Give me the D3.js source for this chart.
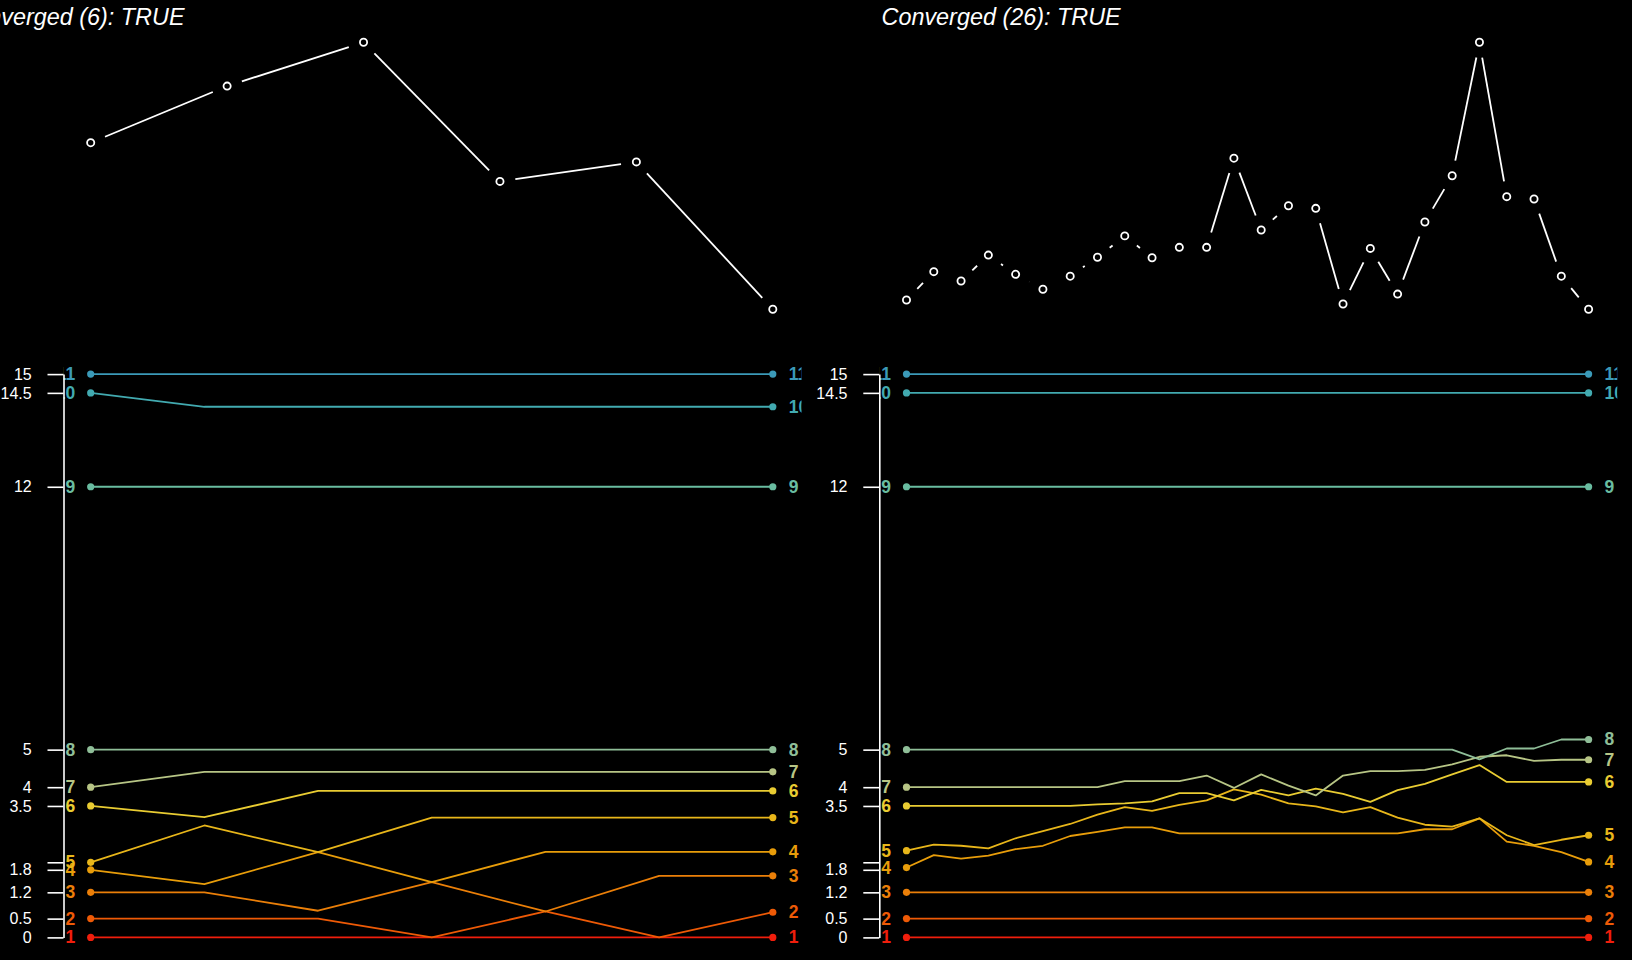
<!DOCTYPE html>
<html><head><meta charset="utf-8">
<script src="https://cdn.jsdelivr.net/npm/d3@7"></script>
<style>
html,body{margin:0;padding:0;background:#000;overflow:hidden;}
svg{display:block;}
text{font-family:"Liberation Sans",Arial,Helvetica,sans-serif;}
</style></head><body>
<svg id="chart" width="1632" height="960"></svg>
<script>
// ---------------- data ----------------
const itemLabels = ["1","2","3","4","5","6","7","8","9","10","11"];
const itemColors = ["#F01E0C","#EE5A06","#EB7F08","#E89D0A","#E8B61A","#E9CC32","#B7C585","#8FBE98","#69BCA0","#42AAB0","#3B9AB8"];
const axisTicks = [0, 0.5, 1.2, 1.8, 2, 3.5, 4, 5, 12, 14.5, 15];
const axisTickLabels = ["0","0.5","1.2","1.8","","3.5","4","5","12","14.5","15"];

// run A (left panel)
const runA_title = "Converged (6): TRUE";
const runA_score = [0.624, 0.836, 1.000, 0.479, 0.552, 0.000];
const runA_item1  = [0, 0, 0, 0, 0, 0, 0];
const runA_item2  = [0.5, 0.5, 0.5, 0, 0.69, 0, 0.67];
const runA_item3  = [1.2, 1.2, 0.71, 1.47, 0.69, 1.64, 1.64];
const runA_item4  = [1.8, 1.42, 2.27, 1.47, 2.28, 2.28, 2.28];
const runA_item5  = [2.0, 2.98, 2.27, 3.19, 3.19, 3.19, 3.19];
const runA_item6  = [3.5, 3.2, 3.9, 3.9, 3.9, 3.9, 3.9];
const runA_item7  = [4, 4.41, 4.41, 4.41, 4.41, 4.41, 4.41];
const runA_item8  = [5, 5, 5, 5, 5, 5, 5];
const runA_item9  = [12, 12, 12, 12, 12, 12, 12];
const runA_item10 = [14.5, 14.13, 14.13, 14.13, 14.13, 14.13, 14.13];
const runA_item11 = [15, 15, 15, 15, 15, 15, 15];

// run B (right panel)
const runB_title = "Converged (26): TRUE";
const runB_score = [0.035, 0.141, 0.106, 0.203, 0.131, 0.075, 0.124, 0.195, 0.275, 0.193,
                    0.232, 0.232, 0.566, 0.297, 0.388, 0.378, 0.020, 0.228, 0.057, 0.327,
                    0.500, 1.000, 0.422, 0.413, 0.124, 0.000];
const runB_item1  = [0,0,0,0,0,0,0,0,0,0,0,0,0,0,0,0,0,0,0,0,0,0,0,0,0,0];
const runB_item2  = [0.5,0.5,0.5,0.5,0.5,0.5,0.5,0.5,0.5,0.5,0.5,0.5,0.5,0.5,0.5,0.5,0.5,0.5,0.5,0.5,0.5,0.5,0.5,0.5,0.5,0.5];
const runB_item3  = [1.2,1.2,1.2,1.2,1.2,1.2,1.2,1.2,1.2,1.2,1.2,1.2,1.2,1.2,1.2,1.2,1.2,1.2,1.2,1.2,1.2,1.2,1.2,1.2,1.2,1.2];
const runB_item4  = [1.86, 2.19, 2.10, 2.18, 2.35, 2.44, 2.70, 2.81, 2.93, 2.93,
                     2.77, 2.77, 2.77, 2.77, 2.77, 2.77, 2.77, 2.77, 2.77, 2.88,
                     2.88, 3.17, 2.55, 2.44, 2.27, 2.01];
const runB_item5  = [2.31, 2.47, 2.44, 2.37, 2.64, 2.83, 3.02, 3.27, 3.47, 3.37,
                     3.53, 3.65, 3.94, 3.80, 3.57, 3.49, 3.33, 3.47, 3.19, 3.00,
                     2.95, 3.17, 2.72, 2.46, 2.60, 2.72];
const runB_item6  = [3.5, 3.5, 3.5, 3.5, 3.5, 3.5, 3.5, 3.54, 3.57, 3.62,
                     3.84, 3.84, 3.65, 3.93, 3.78, 3.96, 3.82, 3.61, 3.92, 4.09,
                     4.34, 4.59, 4.14, 4.14, 4.14, 4.14];
const runB_item7  = [4, 4, 4, 4, 4, 4, 4, 4, 4.16, 4.16,
                     4.16, 4.31, 3.98, 4.34, 4.04, 3.78, 4.31, 4.43, 4.43, 4.46,
                     4.61, 4.81, 4.85, 4.70, 4.73, 4.73];
const runB_item8  = [5,5,5,5,5,5,5,5,5,5,5,5,5,5,5,5,5,5,5,5,5, 4.74, 5.03, 5.03, 5.27, 5.27];
const runB_item9  = [12,12,12,12,12,12,12,12,12,12,12,12,12,12,12,12,12,12,12,12,12,12,12,12,12,12];
const runB_item10 = [14.5,14.5,14.5,14.5,14.5,14.5,14.5,14.5,14.5,14.5,14.5,14.5,14.5,14.5,14.5,14.5,14.5,14.5,14.5,14.5,14.5,14.5,14.5,14.5,14.5,14.5];
const runB_item11 = [15,15,15,15,15,15,15,15,15,15,15,15,15,15,15,15,15,15,15,15,15,15,15,15,15,15];

// ---------------- layout ----------------
const panels = [
  { title: runA_title, score: runA_score,
    items: [runA_item1,runA_item2,runA_item3,runA_item4,runA_item5,runA_item6,runA_item7,runA_item8,runA_item9,runA_item10,runA_item11],
    axisX: 63.5, titleX: 184.5, titleAnchor: "end" },
  { title: runB_title, score: runB_score,
    items: [runB_item1,runB_item2,runB_item3,runB_item4,runB_item5,runB_item6,runB_item7,runB_item8,runB_item9,runB_item10,runB_item11],
    axisX: 879.3, titleX: 881.5, titleAnchor: "start" }
];

const svg = d3.select("#chart");
svg.append("rect").attr("width",1632).attr("height",960).attr("fill","#000");

const yPos = d3.scaleLinear().domain([0, 15]).range([937.4, 374.1]);
const plotW = 738;
const gapR = 15.5;

panels.forEach((p, pi) => {
  const ax = p.axisX;
  const xr = [ax + 27.2, ax + 709.3];
  const g = svg.append("g");

  // title
  g.append("text")
    .attr("x", p.titleX).attr("y", 25)
    .attr("text-anchor", p.titleAnchor)
    .attr("fill", "#fff")
    .attr("font-style", "italic")
    .attr("font-size", "23.4px")
    .text(p.title);

  // ---- top: score line (type "b") ----
  const n = p.score.length;
  const xs = d3.scaleLinear().domain([1, n]).range(xr);
  const ys = d3.scaleLinear().domain(d3.extent(p.score)).range([309.3, 42.3]);
  const pts = p.score.map((v, i) => [xs(i + 1), ys(v)]);
  const segs = [];
  for (let i = 0; i < pts.length - 1; i++) {
    const [x1, y1] = pts[i], [x2, y2] = pts[i + 1];
    const dx = x2 - x1, dy = y2 - y1, L = Math.hypot(dx, dy);
    if (L > 2 * gapR) {
      const ux = dx / L, uy = dy / L;
      segs.push([x1 + ux * gapR, y1 + uy * gapR, x2 - ux * gapR, y2 - uy * gapR]);
    }
  }
  g.selectAll("line.seg").data(segs).join("line")
    .attr("class", "seg")
    .attr("x1", d => d[0]).attr("y1", d => d[1])
    .attr("x2", d => d[2]).attr("y2", d => d[3])
    .attr("stroke", "#fff").attr("stroke-width", 1.8);
  g.selectAll("circle.pt").data(pts).join("circle")
    .attr("class", "pt")
    .attr("cx", d => d[0]).attr("cy", d => d[1]).attr("r", 3.6)
    .attr("fill", "none").attr("stroke", "#fff").attr("stroke-width", 1.8);

  // ---- bottom: item positions ----
  const m = p.items[0].length;
  const xb = d3.scaleLinear().domain([0, m - 1]).range(xr);

  const clipId = "clip" + pi;
  svg.append("clipPath").attr("id", clipId)
    .append("rect").attr("x", ax).attr("y", 330).attr("width", plotW).attr("height", 630);

  const cg = g.append("g").attr("clip-path", `url(#${clipId})`);
  const line = d3.line().x((d, i) => xb(i)).y(d => yPos(d));

  p.items.forEach((vals, k) => {
    const col = itemColors[k];
    cg.append("path").attr("d", line(vals))
      .attr("fill", "none").attr("stroke", col).attr("stroke-width", 1.8)
      .attr("stroke-linejoin", "round");
    cg.append("circle").attr("cx", xb(0)).attr("cy", yPos(vals[0])).attr("r", 3.6).attr("fill", col);
    cg.append("circle").attr("cx", xb(m - 1)).attr("cy", yPos(vals[m - 1])).attr("r", 3.6).attr("fill", col);
    cg.append("text").attr("x", xb(0) - 15.5).attr("y", yPos(vals[0])).attr("dy", "0.34em")
      .attr("text-anchor", "end").attr("font-weight", "bold").attr("font-size", "17.5px")
      .attr("fill", col).text(itemLabels[k]);
    cg.append("text").attr("x", xb(m - 1) + 16).attr("y", yPos(vals[m - 1])).attr("dy", "0.34em")
      .attr("text-anchor", "start").attr("font-weight", "bold").attr("font-size", "17.5px")
      .attr("fill", col).text(itemLabels[k]);
  });

  // axis
  const axis = d3.axisLeft(yPos).tickValues(axisTicks)
    .tickFormat((d, i) => axisTickLabels[i])
    .tickSize(16).tickSizeOuter(0).tickPadding(15.8);
  const ag = g.append("g").attr("transform", `translate(${ax},0)`).call(axis);
  ag.select(".domain").attr("stroke", "#fff").attr("stroke-width", 1.6);
  ag.selectAll(".tick line").attr("stroke", "#fff").attr("stroke-width", 1.6);
  ag.selectAll(".tick text").attr("fill", "#fff").attr("font-size", "16px")
    .attr("font-family", '"Liberation Sans",Arial,sans-serif');
});
</script>
</body></html>
